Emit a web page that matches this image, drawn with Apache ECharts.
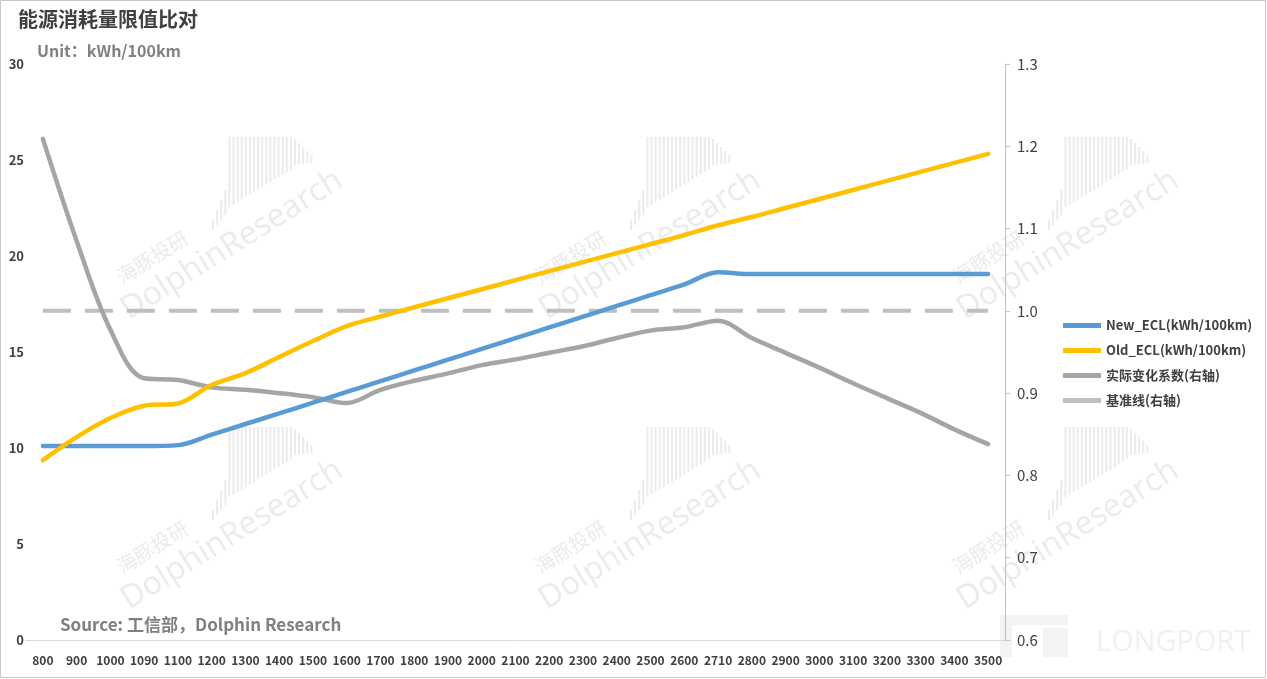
<!DOCTYPE html>
<html>
<head>
<meta charset="utf-8">
<script src="https://cdn.jsdelivr.net/npm/echarts@6/dist/echarts.min.js"></script>
<style>
html,body{margin:0;padding:0;background:#fff;}
#c{width:1267px;height:679px;}
</style>
</head>
<body>
<div id="c"></div>
<script>
var categories = ['800','900','1000','1090','1100','1200','1300','1400','1500','1600','1700','1800','1900','2000','2100','2200','2300','2400','2500','2600','2710','2800','2900','3000','3100','3200','3300','3400','3500'];
var newECL = [10.1,10.1,10.1,10.1,10.15,10.7,11.25,11.8,12.36,12.92,13.48,14.04,14.6,15.16,15.72,16.28,16.84,17.4,17.96,18.52,19.15,19.06,19.06,19.06,19.06,19.06,19.06,19.06,19.06];
var oldECL = [9.37,10.57,11.56,12.2,12.32,13.28,13.9,14.74,15.57,16.35,16.85,17.33,17.8,18.27,18.74,19.21,19.68,20.15,20.62,21.09,21.6,22.03,22.5,22.97,23.44,23.91,24.38,24.85,25.32];
var coef = [1.209,1.085,0.977,0.918,0.916,0.907,0.904,0.9,0.895,0.888,0.904,0.915,0.924,0.934,0.941,0.949,0.957,0.967,0.976,0.98,0.988,0.967,0.949,0.931,0.912,0.894,0.876,0.856,0.838];
var baseline = [1,1,1,1,1,1,1,1,1,1,1,1,1,1,1,1,1,1,1,1,1,1,1,1,1,1,1,1,1];
var leftTicks = {min:0, max:30, interval:5};
var rightTicks = {min:0.6, max:1.3, interval:0.1};

var chart = echarts.init(document.getElementById('c'));
var FONT = '"Noto Sans CJK SC","Noto Sans",sans-serif';
var WM = '#ebebeb';

// decorative watermark (text + barcode-like bars)
function watermark(cx, cy) {
  var g = {
    type: 'group', silent: true, z: -10, children: [
      {type:'group', x: cx, y: cy, rotation: 32 * Math.PI / 180, children: [
        {type:'text', x:0, y:0, style:{text:'DolphinResearch', font:'32px "Open Sans",sans-serif', fill:WM, align:'center', verticalAlign:'middle'}},
        {type:'text', x:-74, y:-32, style:{text:'海豚投研', font:'20px "Noto Sans CJK SC",sans-serif', fill:WM, align:'center', verticalAlign:'middle'}}
      ]}
    ]
  };
  for (var i = 0; i < 25; i++) {
    var bx = cx - 20 + 4.1 * i;
    var top, bot;
    if (i < 4) { top = cy - 25 - 10 * i; bot = cy - 15 - 5 * i; }
    else if (i < 20) { top = cy - 108; bot = cy - 38 - 2.5 * (i - 4); }
    else { top = cy - 106 + 4 * (i - 20); bot = cy - 80 - 0.5 * (i - 20); }
    g.children.push({type:'rect', shape:{x:bx, y:top, width:2, height:bot - top}, style:{fill:WM}});
  }
  return g;
}

var graphics = [
  {type:'rect', shape:{x:0.5,y:0.5,width:1265,height:677}, style:{fill:'none', stroke:'#c8c8c8', lineWidth:1}, silent:true, z:100},
  {type:'text', left:18, top:9, style:{text:'能源消耗量限值比对', font:'bold 20px ' + FONT, fill:'#404040'}},
  {type:'text', left:37, top:43, style:{text:'Unit：kWh/100km', font:'bold 16px ' + FONT, fill:'#808080'}},
  {type:'text', left:60, top:616, style:{text:'Source: 工信部，Dolphin Research', font:'bold 17px ' + FONT, fill:'#808080'}, z:10},
  {type:'rect', shape:{x:1000,y:615,width:68,height:10}, style:{fill:'#f3f3f3'}, silent:true, z:-10},
  {type:'rect', shape:{x:1000,y:615,width:12,height:42}, style:{fill:'#f3f3f3'}, silent:true, z:-10},
  {type:'rect', shape:{x:1043,y:628,width:25,height:29}, style:{fill:'#f3f3f3'}, silent:true, z:-10},
  {type:'text', left:1096, top:628, style:{text:'LONGPORT', font:'29px "Open Sans",sans-serif', fill:'#f0f0f0'}, silent:true, z:-10}
];
[[232,245],[650,245],[1068,245],[232,535],[650,535],[1068,535]].forEach(function(p){ graphics.push(watermark(p[0], p[1])); });

chart.setOption({
  animation: false,
  backgroundColor: '#fff',
  textStyle: {fontFamily: FONT},
  graphic: graphics,
  grid: {left: 26, right: 262, top: 64, bottom: 39, containLabel: false},
  legend: {
    orient: 'vertical', left: 1058, top: 314, itemWidth: 38, itemHeight: 5, itemGap: 12,
    icon: 'rect',
    textStyle: {color: '#404040', fontSize: 13, fontWeight: 'bold', fontFamily: FONT},
    data: ['New_ECL(kWh/100km)', 'Old_ECL(kWh/100km)', '实际变化系数(右轴)', '基准线(右轴)']
  },
  xAxis: {
    type: 'category', data: categories, boundaryGap: true,
    axisLine: {show: true, lineStyle: {color: '#d9d9d9', width: 1}},
    axisTick: {show: false},
    axisLabel: {interval: 0, margin: 14, color: '#404040', fontSize: 12, fontWeight: 'bold', fontFamily: FONT},
    splitLine: {show: false}
  },
  yAxis: [
    {
      type: 'value', min: leftTicks.min, max: leftTicks.max, interval: leftTicks.interval,
      axisLine: {show: false}, axisTick: {show: false}, splitLine: {show: false},
      axisLabel: {margin: 2, color: '#404040', fontSize: 13, fontWeight: 'bold', fontFamily: FONT}
    },
    {
      type: 'value', position: 'right', min: rightTicks.min, max: rightTicks.max, interval: rightTicks.interval,
      axisLine: {show: true, lineStyle: {color: '#bfbfbf'}},
      axisTick: {show: true, length: 5, lineStyle: {color: '#bfbfbf'}},
      splitLine: {show: false},
      axisLabel: {margin: 12, color: '#404040', fontSize: 15, fontFamily: FONT, formatter: function(v){ return v.toFixed(1); }}
    }
  ],
  series: [
    {name: 'New_ECL(kWh/100km)', type: 'line', data: newECL, yAxisIndex: 0, smooth: 0.35, showSymbol: false, symbol: 'none',
     lineStyle: {color: '#5b9bd5', width: 4.5, cap: 'round'}, itemStyle: {color: '#5b9bd5'}, z: 3},
    {name: 'Old_ECL(kWh/100km)', type: 'line', data: oldECL, yAxisIndex: 0, smooth: 0.35, showSymbol: false, symbol: 'none',
     lineStyle: {color: '#ffc000', width: 4.5, cap: 'round'}, itemStyle: {color: '#ffc000'}, z: 4},
    {name: '实际变化系数(右轴)', type: 'line', data: coef, yAxisIndex: 1, smooth: 0.35, showSymbol: false, symbol: 'none',
     lineStyle: {color: '#a5a5a5', width: 4.5, cap: 'round'}, itemStyle: {color: '#a5a5a5'}, z: 2},
    {name: '基准线(右轴)', type: 'line', data: baseline, yAxisIndex: 1, showSymbol: false, symbol: 'none',
     lineStyle: {color: '#bfbfbf', width: 4, type: [28, 14]}, itemStyle: {color: '#bfbfbf'}, z: 1}
  ]
});
</script>
</body>
</html>
